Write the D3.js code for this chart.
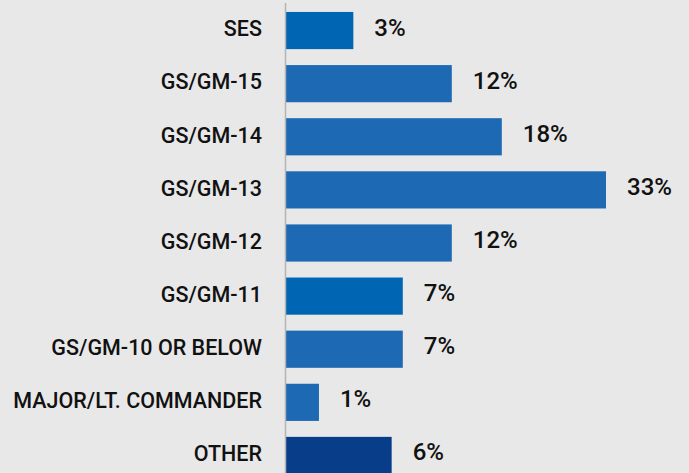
<!DOCTYPE html>
<html>
<head>
<meta charset="utf-8">
<script src="https://cdn.jsdelivr.net/npm/d3@7"></script>
<style>
  html, body { margin: 0; padding: 0; background: #e8e8e8; }
  svg { display: block; }
</style>
</head>
<body>
<svg id="chart" width="689" height="473"></svg>
<script>
// Share of respondents by grade / rank
const categories = [
  "SES", "GS/GM-15", "GS/GM-14", "GS/GM-13", "GS/GM-12",
  "GS/GM-11", "GS/GM-10 OR BELOW", "MAJOR/LT. COMMANDER", "OTHER"
];
const values = [3, 12, 18, 33, 12, 7, 7, 1, 6];
const barColors = [
  "#0066b3", "#1d69b3", "#1d69b3", "#1d69b3", "#1d69b3",
  "#0066b3", "#1d69b3", "#1d69b3", "#083d8a"
];

const width = 689, height = 473;
const axisX = 285.5;
const barX0 = 286;

const svg = d3.select("#chart");

svg.append("rect")
  .attr("width", width).attr("height", height)
  .attr("fill", "#e8e8e8");

const rows = categories.map((c, i) => ({ cat: c, value: values[i], color: barColors[i] }));

const y = d3.scaleBand()
  .domain(categories)
  .range([4, 482])
  .paddingInner(0.3)
  .paddingOuter(0.15);

const x = d3.scalePow()
  .exponent(0.65)
  .domain([0, 33])
  .range([0, 320]);

// Bars
svg.append("g")
  .selectAll("rect")
  .data(rows)
  .join("rect")
  .attr("x", barX0)
  .attr("y", d => y(d.cat))
  .attr("width", d => x(d.value))
  .attr("height", y.bandwidth())
  .attr("fill", d => d.color);

// Vertical baseline
svg.append("line")
  .attr("x1", axisX).attr("x2", axisX)
  .attr("y1", 3).attr("y2", height)
  .attr("stroke", "#b4b4b4")
  .attr("stroke-width", 1.5);

// Category labels
svg.append("g")
  .selectAll("text")
  .data(rows)
  .join("text")
  .attr("x", 262)
  .attr("y", d => y(d.cat) + y.bandwidth() / 2 + 5.8)
  .attr("text-anchor", "end")
  .attr("font-family", "Roboto, 'Noto Sans', sans-serif")
  .attr("font-weight", 500)
  .attr("font-size", 21.5)
  .attr("fill", "#111")
  .text(d => d.cat);

// Value labels
svg.append("g")
  .selectAll("text")
  .data(rows)
  .join("text")
  .attr("x", d => barX0 + x(d.value) + 21)
  .attr("y", d => y(d.cat) + y.bandwidth() / 2 + 5)
  .attr("font-family", "Roboto, 'Noto Sans', sans-serif")
  .attr("font-weight", 500)
  .attr("font-size", 24)
  .attr("fill", "#111")
  .text(d => d.value + "%");
</script>
</body>
</html>
